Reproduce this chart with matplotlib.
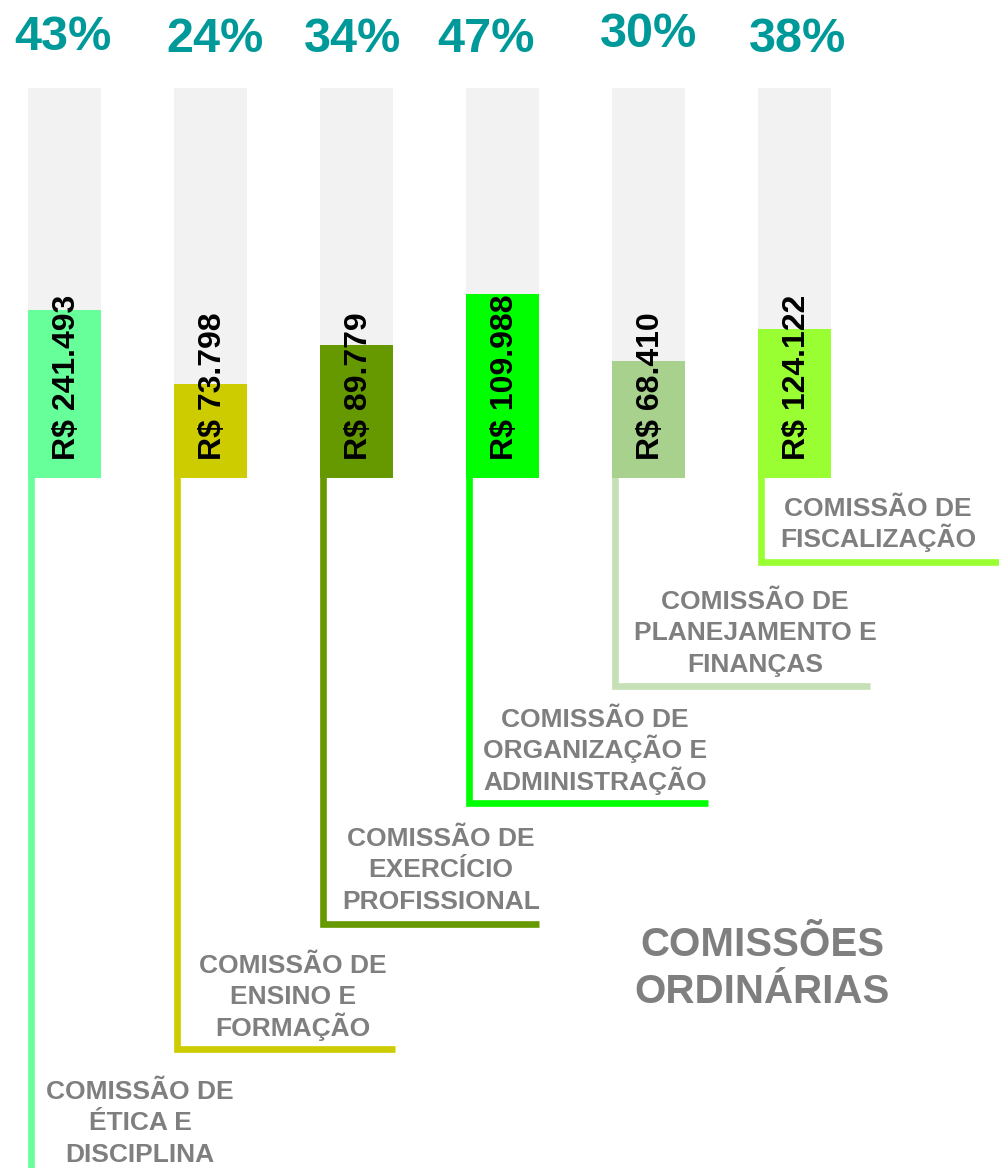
import matplotlib
matplotlib.use("Agg")
import matplotlib.pyplot as plt

# ---- data ----
categories = [
    "COMISSÃO DE\nÉTICA E\nDISCIPLINA",
    "COMISSÃO DE\nENSINO E\nFORMAÇÃO",
    "COMISSÃO DE\nEXERCÍCIO\nPROFISSIONAL",
    "COMISSÃO DE\nORGANIZAÇÃO E\nADMINISTRAÇÃO",
    "COMISSÃO DE\nPLANEJAMENTO E\nFINANÇAS",
    "COMISSÃO DE\nFISCALIZAÇÃO",
]
percentages = [43, 24, 34, 47, 30, 38]
value_labels = ["R$ 241.493", "R$ 73.798", "R$ 89.779", "R$ 109.988", "R$ 68.410", "R$ 124.122"]
title_text = "COMISSÕES\nORDINÁRIAS"

# ---- style ----
bar_colors = ["#66FF99", "#CCCC00", "#669900", "#00FF00", "#A9D18E", "#99FF33"]
line_colors = ["#66FF99", "#CCCC00", "#669900", "#00FF00", "#C5E0B4", "#99FF33"]
bg_color = "#F2F2F2"
teal = "#009999"
gray = "#7F7F7F"
FONT = "Liberation Sans"

W, H = 999, 1168
fig = plt.figure(figsize=(W / 100, H / 100), dpi=100)

# overlay axes in pixel coordinates (for leader lines & labels)
ax0 = fig.add_axes([0, 0, 1, 1], zorder=0)
ax0.set_xlim(0, W)
ax0.set_ylim(H, 0)
ax0.axis("off")

# bar axes: 0..100 % maps to pixels 477.5..88
bar_bottom_px, bar_top_px = 477.5, 88.0
ax = fig.add_axes([0, (H - bar_bottom_px) / H, 1, (bar_bottom_px - bar_top_px) / H], zorder=1)
ax.patch.set_alpha(0)
first_center_px, spacing_px, bar_w_px = 64.5, 146.0, 73.0
ax.set_xlim(-first_center_px / spacing_px, (W - first_center_px) / spacing_px)
ax.set_ylim(0, 100)
ax.axis("off")

xs = list(range(len(percentages)))
ax.bar(xs, [100] * len(xs), width=bar_w_px / spacing_px, color=bg_color, zorder=1)
ax.bar(xs, percentages, width=bar_w_px / spacing_px, color=bar_colors, zorder=2)

for i, (p, v) in enumerate(zip(percentages, value_labels)):
    ax.text(i + 0.015, 4.4, v, rotation=90, ha="center", va="bottom",
            fontsize=23, fontweight="bold", family=FONT, color="black", zorder=3)

# percentage headers
pct_x = [63, 215, 353, 486, 649, 798]
pct_base = [50, 52, 52, 52, 47, 52]
for p, x, yb in zip(percentages, pct_x, pct_base):
    ax0.text(x, yb, f"{p}%", ha="center", va="baseline", fontsize=35,
             fontweight="bold", family=FONT, color=teal)

# leader lines (L-shapes)
line_y = [1175, 1048.5, 923.5, 802.5, 685.5, 562]
line_xend = [None, 395, 539, 708, 870, 1005]
for i in xs:
    xl = first_center_px + spacing_px * i - bar_w_px / 2 + 2.5
    if line_xend[i] is None:
        ax0.plot([xl, xl], [470, line_y[i]], color=line_colors[i], lw=4.8,
                 solid_capstyle="butt", solid_joinstyle="miter")
    else:
        ax0.plot([xl, xl, line_xend[i]], [470, line_y[i], line_y[i]],
                 color=line_colors[i], lw=4.8,
                 solid_capstyle="butt", solid_joinstyle="miter")

# category labels (each line placed on its own baseline for even spacing)
lab_x = [140, 293, 441, 595, 755, 878]
lab_base = [1099, 973, 846, 727, 609, 516]
lab_step = 31.3
for t, x, yb in zip(categories, lab_x, lab_base):
    for k, line in enumerate(t.split("\n")):
        ax0.text(x, yb + k * lab_step, line, ha="center", va="baseline",
                 fontsize=19, fontweight="bold", family=FONT, color=gray)

title_base = 956
title_step = 47
for k, line in enumerate(title_text.split("\n")):
    ax0.text(762, title_base + k * title_step, line, ha="center", va="baseline",
             fontsize=29, fontweight="bold", family=FONT, color=gray)

fig.savefig("out.png", dpi=100)
